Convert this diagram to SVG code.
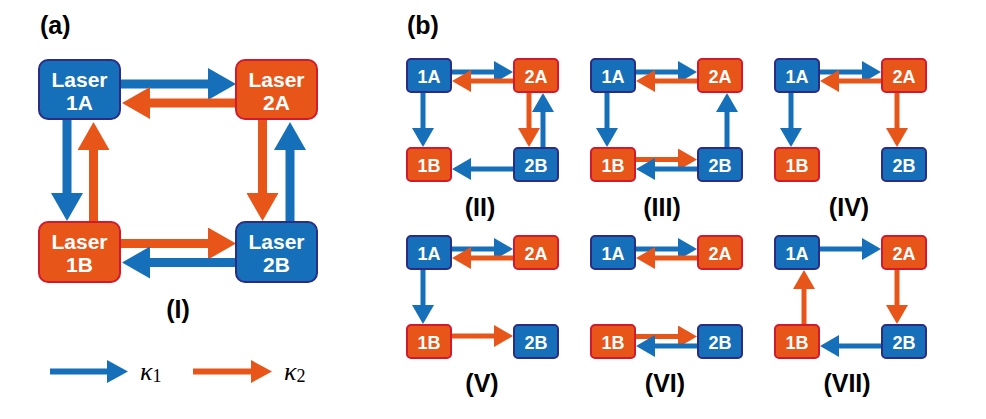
<svg xmlns="http://www.w3.org/2000/svg" width="986" height="419" viewBox="0 0 986 419">
<style>
.bn{fill:#1570B9;stroke:#2A2C86;stroke-width:2}
.on{fill:#E85519;stroke:#D3192E;stroke-width:2}
.bt{font-family:"Liberation Sans",Arial,sans-serif;font-weight:bold;fill:#fff;text-anchor:middle}
.big{font-size:21px}
.sm{font-size:18px}
.lab{font-family:"Liberation Sans",Arial,sans-serif;font-weight:bold;font-size:25px;fill:#000}
.mid{text-anchor:middle}
.ab{stroke:#1570B9;fill:none}
.ao{stroke:#E85519;fill:none}
.w9{stroke-width:9}
.w5{stroke-width:5}
.w6{stroke-width:6}
.k{font-family:"Liberation Serif","Times New Roman",serif;fill:#000}
</style>
<defs>
<marker id="BB" viewBox="0 0 28 32" refX="1" refY="16" markerWidth="28" markerHeight="32" markerUnits="userSpaceOnUse" orient="auto"><path d="M0,0L28,16L0,32z" fill="#1570B9"/></marker>
<marker id="BO" viewBox="0 0 28 32" refX="1" refY="16" markerWidth="28" markerHeight="32" markerUnits="userSpaceOnUse" orient="auto"><path d="M0,0L28,16L0,32z" fill="#E85519"/></marker>
<marker id="SB" viewBox="0 0 19 22" refX="1" refY="11" markerWidth="19" markerHeight="22" markerUnits="userSpaceOnUse" orient="auto"><path d="M0,0L19,11L0,22z" fill="#1570B9"/></marker>
<marker id="SO" viewBox="0 0 19 22" refX="1" refY="11" markerWidth="19" markerHeight="22" markerUnits="userSpaceOnUse" orient="auto"><path d="M0,0L19,11L0,22z" fill="#E85519"/></marker>
<marker id="LB" viewBox="0 0 21 23" refX="1" refY="11.5" markerWidth="21" markerHeight="23" markerUnits="userSpaceOnUse" orient="auto"><path d="M0,0L21,11.5L0,23z" fill="#1570B9"/></marker>
<marker id="LO" viewBox="0 0 21 23" refX="1" refY="11.5" markerWidth="21" markerHeight="23" markerUnits="userSpaceOnUse" orient="auto"><path d="M0,0L21,11.5L0,23z" fill="#E85519"/></marker>
</defs>

<text class="lab" x="40" y="34">(a)</text>
<text class="lab" x="407" y="34">(b)</text>

<!-- Panel (a) connectors -->
<g id="connectors-a">
<line class="ab w9" x1="121" y1="84" x2="209" y2="84" marker-end="url(#BB)"/>
<line class="ao w9" x1="235" y1="103" x2="149" y2="103" marker-end="url(#BO)"/>
<line class="ab w9" x1="67" y1="120" x2="67" y2="194" marker-end="url(#BB)"/>
<line class="ao w9" x1="93.5" y1="221" x2="93.5" y2="149" marker-end="url(#BO)"/>
<line class="ao w9" x1="262.5" y1="120" x2="262.5" y2="194" marker-end="url(#BO)"/>
<line class="ab w9" x1="290" y1="221" x2="290" y2="149" marker-end="url(#BB)"/>
<line class="ao w9" x1="121" y1="243.5" x2="209" y2="243.5" marker-end="url(#BO)"/>
<line class="ab w9" x1="235" y1="262.5" x2="149" y2="262.5" marker-end="url(#BB)"/>
</g>
<g id="a-1A"><rect class="bn" x="39" y="60" width="81" height="59" rx="9"/><text class="bt big" x="79.5" y="87">Laser</text><text class="bt big" x="79.5" y="110">1A</text></g>
<g id="a-2A"><rect class="on" x="236" y="60" width="81" height="59" rx="9"/><text class="bt big" x="276.5" y="87">Laser</text><text class="bt big" x="276.5" y="110">2A</text></g>
<g id="a-1B"><rect class="on" x="39" y="222" width="81" height="60" rx="9"/><text class="bt big" x="79.5" y="249">Laser</text><text class="bt big" x="79.5" y="272">1B</text></g>
<g id="a-2B"><rect class="bn" x="236" y="222" width="81" height="60" rx="9"/><text class="bt big" x="276.5" y="249">Laser</text><text class="bt big" x="276.5" y="272">2B</text></g>
<text class="lab mid" x="178" y="318">(I)</text>

<!-- Legend -->
<g id="legend">
<line class="ab w6" x1="50" y1="371.5" x2="108" y2="371.5" marker-end="url(#LB)"/>
<text class="k" x="140" y="380"><tspan font-style="italic" font-size="26">κ</tspan><tspan font-size="18" dy="2">1</tspan></text>
<line class="ao w6" x1="193" y1="371.5" x2="252" y2="371.5" marker-end="url(#LO)"/>
<text class="k" x="284" y="380"><tspan font-style="italic" font-size="26">κ</tspan><tspan font-size="18" dy="2">2</tspan></text>
</g>

<!-- Panel (b) connectors -->
<g id="connectors-b">
<!-- II X=406 Y=58 -->
<line class="ab w5" x1="452" y1="72" x2="495" y2="72" marker-end="url(#SB)"/>
<line class="ao w5" x1="513" y1="81" x2="470" y2="81" marker-end="url(#SO)"/>
<line class="ab w5" x1="423" y1="93" x2="423" y2="129" marker-end="url(#SB)"/>
<line class="ao w5" x1="529" y1="93" x2="529" y2="129" marker-end="url(#SO)"/>
<line class="ab w5" x1="543" y1="147" x2="543" y2="111" marker-end="url(#SB)"/>
<line class="ab w5" x1="513" y1="169" x2="470" y2="169" marker-end="url(#SB)"/>
<!-- III X=590 Y=58 -->
<line class="ab w5" x1="636" y1="72" x2="679" y2="72" marker-end="url(#SB)"/>
<line class="ao w5" x1="697" y1="81" x2="654" y2="81" marker-end="url(#SO)"/>
<line class="ab w5" x1="607" y1="93" x2="607" y2="129" marker-end="url(#SB)"/>
<line class="ab w5" x1="727" y1="147" x2="727" y2="111" marker-end="url(#SB)"/>
<line class="ao w5" x1="636" y1="159.5" x2="679" y2="159.5" marker-end="url(#SO)"/>
<line class="ab w5" x1="697" y1="169" x2="654" y2="169" marker-end="url(#SB)"/>
<!-- IV X=774 Y=58 -->
<line class="ab w5" x1="820" y1="72" x2="863" y2="72" marker-end="url(#SB)"/>
<line class="ao w5" x1="881" y1="81" x2="838" y2="81" marker-end="url(#SO)"/>
<line class="ab w5" x1="791" y1="93" x2="791" y2="129" marker-end="url(#SB)"/>
<line class="ao w5" x1="897" y1="93" x2="897" y2="129" marker-end="url(#SO)"/>
<!-- V X=406 Y=235 -->
<line class="ab w5" x1="452" y1="249" x2="495" y2="249" marker-end="url(#SB)"/>
<line class="ao w5" x1="513" y1="258" x2="470" y2="258" marker-end="url(#SO)"/>
<line class="ab w5" x1="423" y1="270" x2="423" y2="306" marker-end="url(#SB)"/>
<line class="ao w5" x1="452" y1="336" x2="495" y2="336" marker-end="url(#SO)"/>
<!-- VI X=590 Y=235 -->
<line class="ab w5" x1="636" y1="249" x2="679" y2="249" marker-end="url(#SB)"/>
<line class="ao w5" x1="697" y1="258" x2="654" y2="258" marker-end="url(#SO)"/>
<line class="ao w5" x1="636" y1="336.5" x2="679" y2="336.5" marker-end="url(#SO)"/>
<line class="ab w5" x1="697" y1="346" x2="654" y2="346" marker-end="url(#SB)"/>
<!-- VII X=774 Y=235 -->
<line class="ab w5" x1="820" y1="249" x2="863" y2="249" marker-end="url(#SB)"/>
<line class="ao w5" x1="804" y1="324" x2="804" y2="288" marker-end="url(#SO)"/>
<line class="ao w5" x1="897" y1="270" x2="897" y2="306" marker-end="url(#SO)"/>
<line class="ab w5" x1="881" y1="346" x2="838" y2="346" marker-end="url(#SB)"/>
</g>

<!-- II -->
<g id="II-1A"><rect class="bn" x="407" y="59" width="44" height="33" rx="4"/><text class="bt sm" x="429" y="82.5">1A</text></g>
<g id="II-2A"><rect class="on" x="514" y="59" width="44" height="33" rx="4"/><text class="bt sm" x="536" y="82.5">2A</text></g>
<g id="II-1B"><rect class="on" x="407" y="148" width="44" height="33" rx="4"/><text class="bt sm" x="429" y="171.5">1B</text></g>
<g id="II-2B"><rect class="bn" x="514" y="148" width="44" height="33" rx="4"/><text class="bt sm" x="536" y="171.5">2B</text></g>
<text class="lab mid" x="480" y="216">(II)</text>
<!-- III -->
<g id="III-1A"><rect class="bn" x="591" y="59" width="44" height="33" rx="4"/><text class="bt sm" x="613" y="82.5">1A</text></g>
<g id="III-2A"><rect class="on" x="698" y="59" width="44" height="33" rx="4"/><text class="bt sm" x="720" y="82.5">2A</text></g>
<g id="III-1B"><rect class="on" x="591" y="148" width="44" height="33" rx="4"/><text class="bt sm" x="613" y="171.5">1B</text></g>
<g id="III-2B"><rect class="bn" x="698" y="148" width="44" height="33" rx="4"/><text class="bt sm" x="720" y="171.5">2B</text></g>
<text class="lab mid" x="662" y="216">(III)</text>
<!-- IV -->
<g id="IV-1A"><rect class="bn" x="775" y="59" width="44" height="33" rx="4"/><text class="bt sm" x="797" y="82.5">1A</text></g>
<g id="IV-2A"><rect class="on" x="882" y="59" width="44" height="33" rx="4"/><text class="bt sm" x="904" y="82.5">2A</text></g>
<g id="IV-1B"><rect class="on" x="775" y="148" width="44" height="33" rx="4"/><text class="bt sm" x="797" y="171.5">1B</text></g>
<g id="IV-2B"><rect class="bn" x="882" y="148" width="44" height="33" rx="4"/><text class="bt sm" x="904" y="171.5">2B</text></g>
<text class="lab mid" x="849" y="216">(IV)</text>
<!-- V -->
<g id="V-1A"><rect class="bn" x="407" y="236" width="44" height="33" rx="4"/><text class="bt sm" x="429" y="259.5">1A</text></g>
<g id="V-2A"><rect class="on" x="514" y="236" width="44" height="33" rx="4"/><text class="bt sm" x="536" y="259.5">2A</text></g>
<g id="V-1B"><rect class="on" x="407" y="325" width="44" height="33" rx="4"/><text class="bt sm" x="429" y="348.5">1B</text></g>
<g id="V-2B"><rect class="bn" x="514" y="325" width="44" height="33" rx="4"/><text class="bt sm" x="536" y="348.5">2B</text></g>
<text class="lab mid" x="482" y="392">(V)</text>
<!-- VI -->
<g id="VI-1A"><rect class="bn" x="591" y="236" width="44" height="33" rx="4"/><text class="bt sm" x="613" y="259.5">1A</text></g>
<g id="VI-2A"><rect class="on" x="698" y="236" width="44" height="33" rx="4"/><text class="bt sm" x="720" y="259.5">2A</text></g>
<g id="VI-1B"><rect class="on" x="591" y="325" width="44" height="33" rx="4"/><text class="bt sm" x="613" y="348.5">1B</text></g>
<g id="VI-2B"><rect class="bn" x="698" y="325" width="44" height="33" rx="4"/><text class="bt sm" x="720" y="348.5">2B</text></g>
<text class="lab mid" x="665" y="392">(VI)</text>
<!-- VII -->
<g id="VII-1A"><rect class="bn" x="775" y="236" width="44" height="33" rx="4"/><text class="bt sm" x="797" y="259.5">1A</text></g>
<g id="VII-2A"><rect class="on" x="882" y="236" width="44" height="33" rx="4"/><text class="bt sm" x="904" y="259.5">2A</text></g>
<g id="VII-1B"><rect class="on" x="775" y="325" width="44" height="33" rx="4"/><text class="bt sm" x="797" y="348.5">1B</text></g>
<g id="VII-2B"><rect class="bn" x="882" y="325" width="44" height="33" rx="4"/><text class="bt sm" x="904" y="348.5">2B</text></g>
<text class="lab mid" x="847" y="392">(VII)</text>
</svg>
